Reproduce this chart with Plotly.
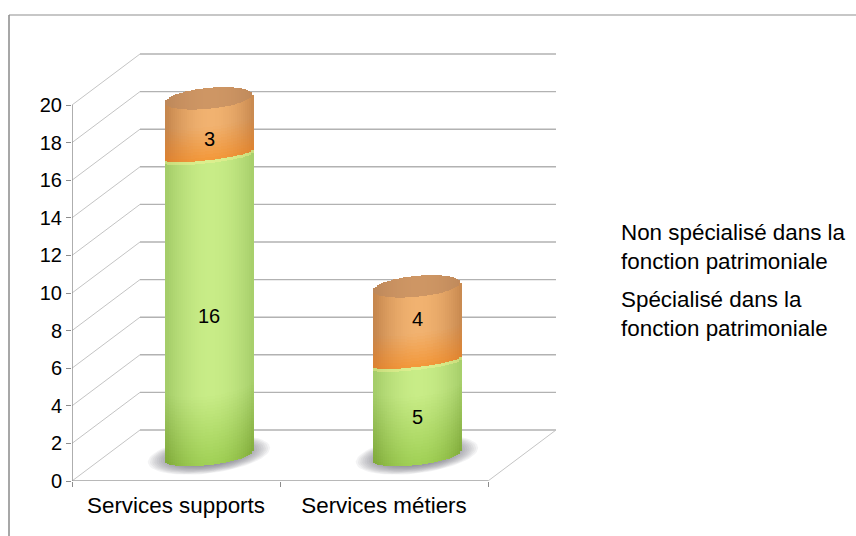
import numpy as np
import plotly.graph_objects as go

categories = ["Services supports", "Services métiers"]
specialise = [16, 5]
non_specialise = [3, 4]
y_ticks = list(range(0, 21, 2))
legend_labels = ["Non spécialisé dans la<br>fonction patrimoniale",
                 "Spécialisé dans la<br>fonction patrimoniale"]

# pixel geometry of the pseudo-3D frame
PX_X = 208.0    # px per category
PX_Y = 18.8     # px per value unit
L, R, T, B = 72, 557, 53, 481
DX = 68 / PX_X  # depth of the floor in x units
DY = 51 / PX_Y  # depth of the floor in y units
BAR_DX = 33 / PX_X
BAR_DY = 25 / PX_Y
HALF_W = 43.5 / PX_X
STRIP = 2 / PX_X
SLICE_PX = 3.0


def mix(a, b, t):
    t = float(np.clip(t, 0, 1))
    return tuple(a[i] + (b[i] - a[i]) * t for i in range(3))


def rgb(c):
    return "rgb(%d,%d,%d)" % tuple(int(round(v)) for v in c)


def shade(kind, u, px, span=0.0):
    """u: -1..1 across the cylinder; px: pixels above the lower rim; span: segment height in px."""
    edge = min(1.0, abs(u - 0.05)) ** 1.9
    if kind == "green":
        t = px / 70
        centre = mix((160, 208, 85), (200, 236, 135), t)
        side = mix((128, 170, 58), (165, 205, 105), t)
        if span - px < 4:
            centre = mix(centre, (228, 240, 145), 0.7)
            side = mix(side, (215, 225, 130), 0.7)
    elif kind == "orange":
        t = px / 34
        centre = mix((243, 152, 58), (241, 178, 112), t)
        side = mix((222, 130, 48), (198, 135, 78), t)
    else:
        centre = (206, 150, 100)
        side = (190, 136, 90)
    return mix(centre, side, edge)


fig = go.Figure()

# frame: gridlines on walls and floor
for v in y_ticks:
    fig.add_trace(go.Scatter(
        x=[0, DX], y=[v, v + DY], mode="lines", hoverinfo="skip", showlegend=False,
        line=dict(color="#c4c4c4", width=1)))
    fig.add_trace(go.Scatter(
        x=[DX, 2 + DX], y=[v + DY, v + DY], mode="lines", hoverinfo="skip", showlegend=False,
        line=dict(color="#b2b2b2", width=1.4)))
fig.add_trace(go.Scatter(x=[2, 2 + DX], y=[0, DY], mode="lines", hoverinfo="skip", showlegend=False,
                         line=dict(color="#c4c4c4", width=1)))
fig.add_trace(go.Scatter(x=[0, 2], y=[0, 0], mode="lines", hoverinfo="skip", showlegend=False,
                         line=dict(color="#a0a0a0", width=1.4)))
fig.add_trace(go.Scatter(x=[0, 0], y=[0, 20], mode="lines", hoverinfo="skip", showlegend=False,
                         line=dict(color="#8c8c8c", width=1.4)))

# soft shadows under the cylinders
th = np.linspace(0, 2 * np.pi, 60)
centres = [i + 0.5 + BAR_DX for i in range(len(categories))]
for c in centres:
    for k in np.linspace(1.02, 0.55, 14):
        ex = 60 / PX_X * k * np.cos(th)
        ey = (18 * k * np.sin(th) + 7 * k * np.cos(th)) / PX_Y
        fig.add_trace(go.Scatter(
            x=c + ex, y=BAR_DY + 1 / PX_Y + ey, mode="lines", fill="toself", hoverinfo="skip",
            showlegend=False, line=dict(width=0, color="rgba(0,0,0,0)"),
            fillcolor="rgba(105,105,118,0.08)"))

# cylinders: thin stacked strips drawn as bars on an axis shifted into the floor's depth
xs, bases, heights, colours = [], [], [], []
offsets = np.arange(-HALF_W, HALF_W, STRIP) + STRIP / 2


def add(x, b, h, col):
    xs.append(x)
    bases.append(b)
    heights.append(h)
    colours.append(rgb(col))


def add_segment(x, lo, hi, kind, u):
    n = max(1, int(round((hi - lo) * PX_Y / SLICE_PX)))
    h = (hi - lo) / n
    for k in range(n):
        add(x, lo + k * h, h, shade(kind, u, (k + 0.5) * h * PX_Y, (hi - lo) * PX_Y))


for c, a, b_ in zip(centres, specialise, non_specialise):
    for dx in offsets:
        u = dx / HALF_W
        root = np.sqrt(max(0.0, 1 - u * u))
        low = (5.0 * u - 9 * root) / PX_Y             # bottom rim
        mid = a + (5.0 * u - 5 * root) / PX_Y         # junction rim
        top = a + b_ + (4.0 * u - 10 * root) / PX_Y   # front rim of the cap
        cap = a + b_ + (4.0 * u + 11 * root) / PX_Y   # back rim of the cap
        add_segment(c + dx, low, mid, "green", u)
        add_segment(c + dx, mid, top, "orange", u)
        add(c + dx, top, cap - top, shade("cap", u, 0))

fig.add_trace(go.Bar(x=xs, y=heights, base=bases, width=STRIP * 1.05, yaxis="y2",
                     marker=dict(color=colours, line=dict(width=0)),
                     hoverinfo="skip", showlegend=False))

annotations = []
tick_font = dict(family="Liberation Sans, Arial, sans-serif", size=20, color="#000000")
text_font = dict(family="Liberation Sans, Arial, sans-serif", size=22.4, color="#000000")
label_shift = [[-10, -12], [-8, 5]]
for i, c in enumerate(centres):
    mids = [specialise[i] / 2, specialise[i] + non_specialise[i] / 2]
    texts = [specialise[i], non_specialise[i]]
    for j in range(2):
        annotations.append(dict(x=c, y=mids[j], xref="x", yref="y2", text=str(texts[j]),
                                showarrow=False, font=tick_font, yshift=label_shift[i][j]))

for label, py in zip(legend_labels, [247, 314]):
    annotations.append(dict(x=(619 - L) / (R - L), y=(B - py) / (B - T), xref="paper", yref="paper",
                            text=label, showarrow=False, xanchor="left", yanchor="middle",
                            align="left", font=text_font))

shapes = [
    dict(type="line", xref="paper", yref="paper", x0=(9 - L) / (R - L), x1=(856 - L) / (R - L),
         y0=(B - 15) / (B - T), y1=(B - 15) / (B - T), line=dict(color="#b4b4b4", width=1.5)),
    dict(type="line", xref="paper", yref="paper", x0=(9 - L) / (R - L), x1=(9 - L) / (R - L),
         y0=(B - 15) / (B - T), y1=(B - 536) / (B - T), line=dict(color="#8a8a8a", width=1.5)),
]

y_top = (B - T) / PX_Y
fig.update_layout(
    width=856, height=536, autosize=False,
    margin=dict(l=L, r=856 - R, t=T, b=536 - B, pad=0),
    paper_bgcolor="white", plot_bgcolor="white",
    barmode="overlay", bargap=0, showlegend=False,
    font=tick_font, annotations=annotations, shapes=shapes,
    xaxis=dict(range=[0, (R - L) / PX_X], tickmode="array", tickvals=[0.5, 1.5], ticktext=categories,
               ticks="", showgrid=False, zeroline=False, showline=False, tickfont=text_font,
               ticklabelstandoff=9,
               minor=dict(tickmode="array", tickvals=[0, 1, 2], ticks="outside", ticklen=5,
                          tickcolor="#8c8c8c", tickwidth=1.2, showgrid=False)),
    yaxis=dict(range=[0, y_top], tickmode="array", tickvals=y_ticks, ticks="outside", ticklen=5,
               tickcolor="#8c8c8c", tickwidth=1.2, showgrid=False, zeroline=False, showline=False,
               tickfont=tick_font),
    yaxis2=dict(range=[-BAR_DY, y_top - BAR_DY], overlaying="y", side="left", visible=False,
                showgrid=False, zeroline=False),
)
fig.write_html("out.html", config=dict(displayModeBar=False),
               post_script="document.body.style.margin='0';")
